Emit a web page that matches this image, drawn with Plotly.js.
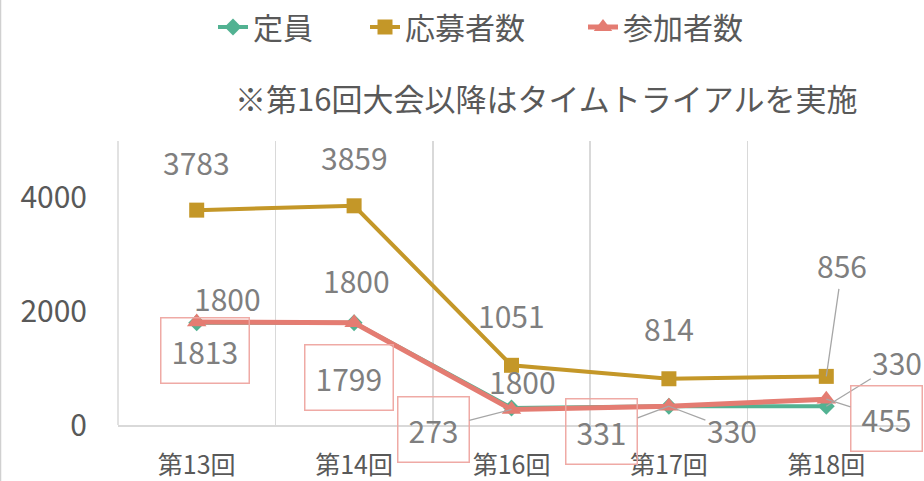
<!DOCTYPE html>
<html><head><meta charset="utf-8">
<script src="https://cdn.plot.ly/plotly-3.0.1.min.js"></script>
<style>html,body{margin:0;padding:0;background:#fff}#c{width:924px;height:481px}</style>
</head><body><div id="c"></div>
<script>
var categories = ["第13回","第14回","第16回","第17回","第18回"];
var capacity = [1800, 1800, 300, 330, 330];
var capacityLabels = ["1800","1800","1800","330","330"];
var applicants = [3783, 3859, 1051, 814, 856];
var participants = [1813, 1799, 273, 331, 455];
var yTicks = [0, 2000, 4000];

var FONT = '"Noto Sans CJK JP", "Noto Sans", sans-serif';
var cTeal = 'rgb(82,178,146)', cGold = 'rgb(196,151,40)', cRed = 'rgb(228,124,114)';
var labelColor = '#7f7f7f';

var traces = [
  {name:'定員', legend:'legend', x:categories, y:capacity, type:'scatter', mode:'lines+markers',
   line:{color:cTeal,width:4}, marker:{symbol:'diamond',size:13,color:cTeal}},
  {name:'応募者数', legend:'legend2', x:categories, y:applicants, type:'scatter', mode:'lines+markers',
   line:{color:cGold,width:4}, marker:{symbol:'square',size:15,color:cGold}},
  {name:'参加者数', legend:'legend3', x:categories, y:participants, type:'scatter', mode:'lines+markers',
   line:{color:cRed,width:5}, marker:{symbol:'triangle-up',size:17,color:cRed}}
];

// label offsets (px) relative to each point
var appOff = [[0,-48],[0,-49],[0,-50],[0,-51],[16,-111]];
var capOff = [[31,-25],[2,-43],[11,-27],[63,24],[71,-44]];
var parOff = [[8,28],[-5,55],[-78,20],[-67,25],[60,19]];
var capLeader = [false,false,false,true,true];
var appLeader = [false,false,false,false,true];
var parLeader = [false,false,true,true,true];

var ann = [];
function addLabel(xv, yv, txt, off, leader, boxed){
  var a = {x:xv, y:yv, xref:'x', yref:'y', text:txt,
    font:{family:FONT,size:30,color:labelColor}};
  if (leader){
    a.showarrow = true; a.arrowhead = 0; a.arrowwidth = 1.3; a.arrowcolor = '#a6a6a6';
    a.ax = off[0]; a.ay = off[1]; a.standoff = 0; a.startstandoff = 0;
  } else {
    a.showarrow = false; a.xshift = off[0]; a.yshift = -off[1];
  }
  if (boxed){ a.bordercolor = 'rgba(238,165,160,0.95)'; a.borderwidth = 1.5; a.borderpad = 10; }
  ann.push(a);
}
for (var i=0;i<categories.length;i++){
  addLabel(categories[i], capacity[i], capacityLabels[i], capOff[i], capLeader[i], false);
  addLabel(categories[i], applicants[i], String(applicants[i]), appOff[i], appLeader[i], false);
  addLabel(categories[i], participants[i], String(participants[i]), parOff[i], parLeader[i], true);
}
ann.push({xref:'paper', yref:'paper', x:(546-118)/787, y:(425-97)/284, showarrow:false,
  text:'※第16回大会以降はタイムトライアルを実施', xanchor:'center', yanchor:'middle',
  font:{family:FONT,size:31,color:'#595959'}});

function leg(px){
  return {orientation:'h', x:(px-118)/787, xanchor:'left', yref:'container', y:1-27/481, yanchor:'middle',
    font:{family:FONT,size:30,color:'#595959'}, bgcolor:'rgba(0,0,0,0)'};
}
var layout = {
  width:924, height:481,
  margin:{l:118, r:19, t:141, b:56, autoexpand:false},
  paper_bgcolor:'#fff', plot_bgcolor:'#fff',
  font:{family:FONT, color:'#595959'},
  showlegend:true,
  legend:leg(213), legend2:leg(365), legend3:leg(583),
  xaxis:{type:'category', categoryorder:'array', categoryarray:categories, range:[-0.5,4.5], autorange:false,
    tickson:'boundaries', showgrid:true, gridcolor:'#d9d9d9', gridwidth:1.5,
    showline:true, linecolor:'#d9d9d9', linewidth:1.5, ticks:'', zeroline:false,
    tickfont:{family:FONT,size:25,color:'#595959'}, ticklabelstandoff:17, fixedrange:true},
  yaxis:{range:[0,5000], autorange:false, tickvals:yTicks, ticktext:yTicks.map(String), showgrid:false, zeroline:false,
    showline:false, ticks:'', tickfont:{family:FONT,size:30,color:'#595959'}, ticklabelstandoff:30},
  annotations:ann,
  shapes:[
    {type:'line', xref:'paper', yref:'paper', x0:-117.5/787, x1:-117.5/787, y0:-56/284, y1:(425)/284,
     line:{color:'#d0d0d0', width:1.5}},
    {type:'line', xref:'paper', yref:'paper', x0:0, x1:0, y0:0, y1:1,
     line:{color:'#d9d9d9', width:1.5}, layer:'below'}
  ]
};
Plotly.newPlot('c', traces, layout, {displayModeBar:false, staticPlot:true});
</script></body></html>
